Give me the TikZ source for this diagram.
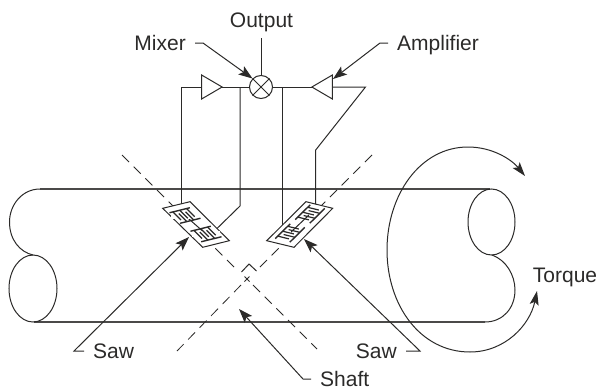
\documentclass[tikz,border=0pt]{standalone}
\usepackage{fontspec}
\setmainfont{Liberation Sans}
\usetikzlibrary{arrows.meta,shapes.geometric}
\definecolor{inkdark}{HTML}{2B2A29}
\tikzset{
    wire/.style={draw=inkdark, line width=1pt},
    shaftline/.style={draw=inkdark!85, line width=1.3pt},
    leader/.style={wire, -{Stealth[length=14pt,width=10pt,inset=3pt]}},
    axisline/.style={draw=inkdark, line width=0.8pt, dash pattern=on 10pt off 6.5pt},
    textlabel/.style={font=\fontsize{21}{24}\selectfont, text=inkdark, inner ysep=0pt, inner xsep=9pt, text height=14.7pt, text depth=0pt},
    ampbox/.style={wire, isosceles triangle, isosceles triangle apex angle=60, isosceles triangle stretches, inner sep=0pt, outer sep=0pt, minimum width=24pt, minimum height=20.5pt},
    plate/.style={wire, fill=white, line join=miter},
    idt/.pic={
        \fill[white] (-9,-7.5) rectangle (9,7.5);
        \draw[wire, line width=1.4pt] (-10.5,-7.5) -- (10.5,-7.5);
        \draw[wire, line width=1.4pt] (-10.5,7.5) -- (10.5,7.5);
        \foreach \x in {-7,0,7} {\draw[wire, line width=1.2pt] (\x,-7.5) -- (\x,4);}
        \foreach \x in {-3.5,3.5} {\draw[wire, line width=1.2pt] (\x,7.5) -- (\x,-4);}
    }
}
\begin{document}
\begin{tikzpicture}[x=1pt,y=-1pt]
        \useasboundingbox (0,0) rectangle (597,388);
        % shaft
        \draw[shaftline] (40,189) -- (490,189);
        \draw[shaftline] (34,322) -- (485,322);
        \draw[wire] (40,189) .. controls (22,189) and (9.5,205) .. (9.5,222) .. controls (9.5,240) and (20,252) .. (33,255);
        \draw[wire] (33,288.5) ellipse (24 and 33.5);
        \draw[wire] (491.5,222) ellipse (23.5 and 33);
        \draw[wire] (492,255) .. controls (506,260) and (515,275) .. (515,290) .. controls (515,308) and (503,322) .. (485,322);
        % torque
        \draw[wire, {Stealth[length=14pt,width=9pt,inset=3pt]}-{Stealth[length=14pt,width=9pt,inset=3pt]}] (537,291) .. controls (530,325) and (505,352) .. (470,352)
            .. controls (420,352) and (387,305) .. (387,250)
            .. controls (387,195) and (420,147) .. (468,147)
            .. controls (493,147) and (512,160) .. (525,176);
        \node[textlabel, inner xsep=0pt] (torque) at (565,275) {Torque};
        % axes
        \draw[axisline] (122,155) -- (237,270);
        \draw[axisline] (253,285) -- (317,349);
        \draw[axisline] (372,155) -- (260,267);
        \draw[axisline] (241,285) -- (177,351);
        \draw[wire, line width=0.8pt] (244.5,276.5) -- (249.5,281.5);
        \draw[wire, line width=0.8pt] (249.5,276.5) -- (244.5,281.5);
        \draw[wire] (241.5,272) -- (249,264) -- (256.5,271);
        % amplifiers and mixer
        \node[circle, wire, inner sep=0pt, minimum size=23pt] (mixer) at (261,87) {};
        \draw[wire] (mixer.45) -- (mixer.225);
        \draw[wire] (mixer.135) -- (mixer.315);
        \node[ampbox] (ampleft) at (208.5,87) {};
        \node[ampbox, shape border rotate=180] (ampright) at (325.5,87) {};
        % saw plates
        \coordinate (sawla) at (185,215.5);
        \coordinate (sawlb) at (206,234);
        \coordinate (sawra) at (310,214);
        \coordinate (sawrb) at (290,233);
        \draw[plate] (162.7,208.3) -- (190,201.7) -- (229.3,240.7) -- (202.7,247.3) -- cycle;
        \draw[plate] (306,201.7) -- (332.7,208.3) -- (294,247.3) -- (266.7,240.7) -- cycle;
        \draw[wire] (sawla) -- (sawlb);
        \draw[wire] (sawra) -- (sawrb);
        \pic[x={(0.97pt,0.24pt)}, y={(0.71pt,-0.70pt)}] at (sawla) {idt};
        \pic[x={(0.97pt,0.24pt)}, y={(0.71pt,-0.70pt)}] at (sawlb) {idt};
        \pic[x={(-0.71pt,-0.70pt)}, y={(0.97pt,-0.24pt)}] at (sawra) {idt};
        \pic[x={(-0.71pt,-0.70pt)}, y={(0.97pt,-0.24pt)}] at (sawrb) {idt};
        % wires
        \coordinate (endla) at (181.5,203.5);
        \coordinate (endlb) at (240,206);
        \coordinate (endlc) at (217,228.5);
        \coordinate (endra) at (282.7,224.5);
        \coordinate (endrb) at (315.7,204);
        \coordinate (tapl) at (240,87);
        \coordinate (tapr) at (282.7,87);
        \draw[wire] (ampleft.west) -- (181.5,87) -- (endla);
        \draw[wire] (ampleft.apex) -- (mixer.west);
        \draw[wire] (tapl) -- (endlb) -- (endlc);
        \draw[wire] (mixer.east) -- (ampright.apex);
        \draw[wire] (tapr) -- (endra);
        \draw[wire] (ampright.east) -- (365.5,87) -- (315.7,150) -- (endrb);
        % labels
        \node[textlabel, inner xsep=0pt] (output) at (261.5,19.7) {Output};
        \draw[wire] (mixer.north) -- (261,38);
        \node[textlabel, anchor=east] (mixerlabel) at (195,43) {Mixer};
        \draw[leader] (mixerlabel.east) -- (203,43) -- (mixer.135);
        \node[textlabel, anchor=west] (amplabel) at (388,43) {Amplifier};
        \coordinate (amptip) at (333,79);
        \draw[leader] (amplabel.west) -- (380,43) -- (amptip);
        \node[textlabel, anchor=west] (sawleft) at (84,351) {Saw};
        \coordinate (sawltip) at (189,237);
        \draw[leader] (sawleft.west) -- (74,351) -- (sawltip);
        \node[textlabel, anchor=east] (sawright) at (406,351) {Saw};
        \coordinate (sawrtip) at (304,239);
        \draw[leader] (sawright.east) -- (420,351) -- (sawrtip);
        \node[textlabel, anchor=west] (shaft) at (311,379) {Shaft};
        \coordinate (shafttip) at (239,309);
        \draw[leader] (shaft.west) -- (303,379) -- (shafttip);
    \end{tikzpicture}
\end{document}
